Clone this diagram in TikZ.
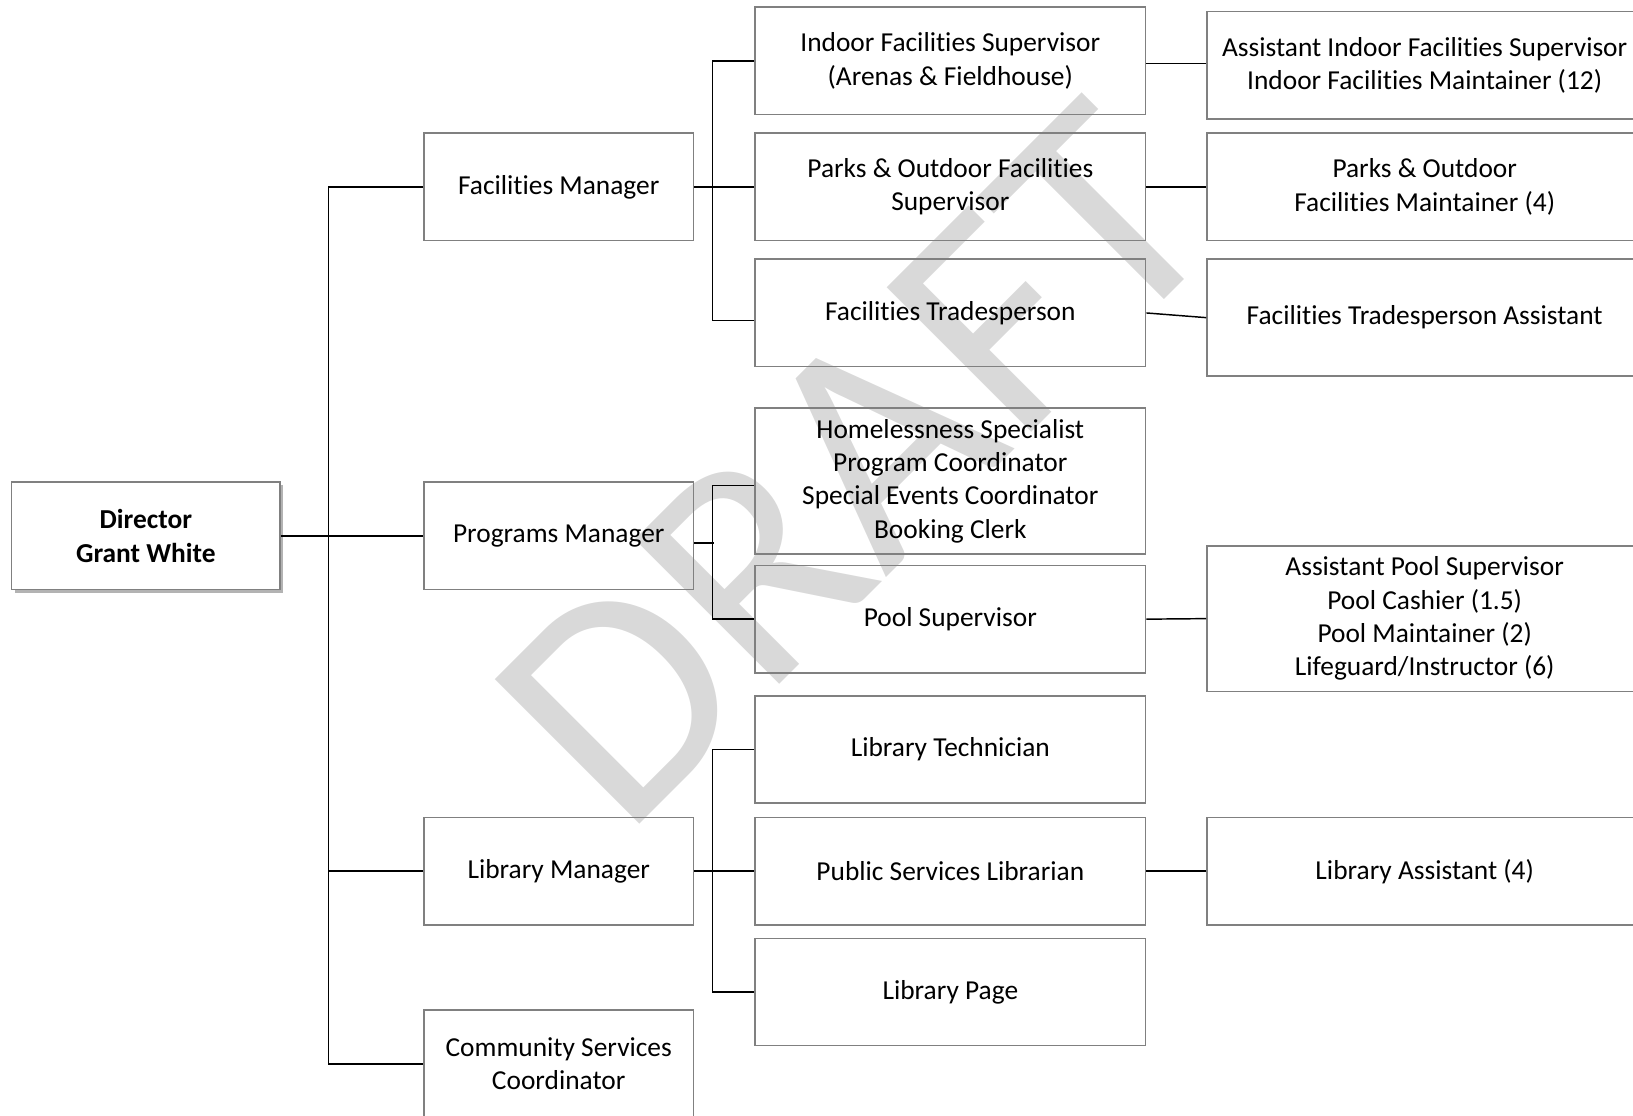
\documentclass[tikz,border=0pt]{standalone}
\usepackage{fontspec}
\setmainfont[Ligatures=NoCommon]{Carlito}
\usepackage{tikz}
\usetikzlibrary{positioning,calc,shadows}

\definecolor{boxgray}{RGB}{128,128,128}
\definecolor{draftgray}{RGB}{217,217,217}

\tikzset{
	orgbox/.style={draw=boxgray, line width=1.6pt, align=center, inner sep=0pt, minimum height=103pt, font=\fontsize{26.3}{32}\selectfont},
	mgrbox/.style={orgbox, minimum width=259pt},
	midbox/.style={orgbox, minimum width=375pt},
	endbox/.style={orgbox, minimum width=418pt},
	link/.style={line width=1.4pt}
}

\begin{document}
\begin{tikzpicture}[x=1pt,y=-1pt]
		\useasboundingbox (0,0) rectangle (1568,1071);
		\node at (821,446) [rotate=45, text=draftgray, inner sep=0pt, font=\fontsize{306}{306}\selectfont] (draft) {DRAFT};

		\node at (140,514.5) [mgrbox, minimum width=258pt, fill=white, drop shadow={shadow xshift=3pt, shadow yshift=-3pt, opacity=0.6}, font=\fontsize{26.3}{32}\selectfont\bfseries] (dir) {Director\\Grant White};
		\node at (536.5,179.5) [mgrbox] (fm) {Facilities Manager};
		\node at (536.5,514.5) [mgrbox] (pm) {Programs Manager};
		\node at (536.5,836.5) [mgrbox] (lm) {Library Manager};
		\node at (536.5,1021.5) [mgrbox] (csc) {Community Services\\Coordinator};

		\node at (912.5,58.5) [midbox] (ifs) {Indoor Facilities Supervisor\\(Arenas \& Fieldhouse)};
		\node at (912.5,179.5) [midbox] (pofs) {Parks \& Outdoor Facilities\\Supervisor};
		\node at (912.5,300.5) [midbox] (ft) {Facilities Tradesperson};
		\node at (912.5,462) [midbox, minimum height=140pt] (hs) {Homelessness Specialist\\Program Coordinator\\Special Events Coordinator\\Booking Clerk};
		\node at (912.5,594.5) [midbox] (ps) {Pool Supervisor};
		\node at (912.5,719.5) [midbox] (lt) {Library Technician};
		\node at (912.5,836.5) [midbox] (psl) {Public Services Librarian};
		\node at (912.5,952.5) [midbox] (lp) {Library Page};

		\node at (1368,62.5) [endbox] (aifs) {Assistant Indoor Facilities Supervisor\\Indoor Facilities Maintainer (12)};
		\node at (1368,179.5) [endbox] (pofm) {Parks \& Outdoor\\Facilities Maintainer (4)};
		\node at (1368,305) [endbox, minimum height=112pt] (fta) {Facilities Tradesperson Assistant};
		\node at (1368,594) [endbox, minimum height=140pt] (pss) {Assistant Pool Supervisor\\Pool Cashier (1.5)\\Pool Maintainer (2)\\Lifeguard/Instructor (6)};
		\node at (1368,836.5) [endbox] (la) {Library Assistant (4)};

		% director to managers
		\draw[link] (dir.east) -- (pm.west);
		\draw[link] (fm.west) -- ++(-91,0) |- (csc.west);
		\draw[link] (lm.west) -- ++(-91,0);

		% managers to supervisors
		\draw[link] (fm.east) -- (pofs.west);
		\draw[link] (ifs.west) -- ++(-40,0) |- ([yshift=-7pt]ft.west);
		\draw[link] ([yshift=-7pt]pm.east) -- ++(19,0);
		\draw[link] ([yshift=-4pt]hs.west) -- ++(-40,0) |- (ps.west);
		\draw[link] (lm.east) -- (psl.west);
		\draw[link] (lt.west) -- ++(-40,0) |- (lp.west);

		\draw[link] ([yshift=-2.5pt]ifs.east) -- ([yshift=1.5pt]aifs.west);
		\draw[link] (pofs.east) -- (pofm.west);
		\draw[link] (ft.east) -- (fta.west);
		\draw[link] (ps.east) -- (pss.west);
		\draw[link] (psl.east) -- (la.west);
\end{tikzpicture}
\end{document}
